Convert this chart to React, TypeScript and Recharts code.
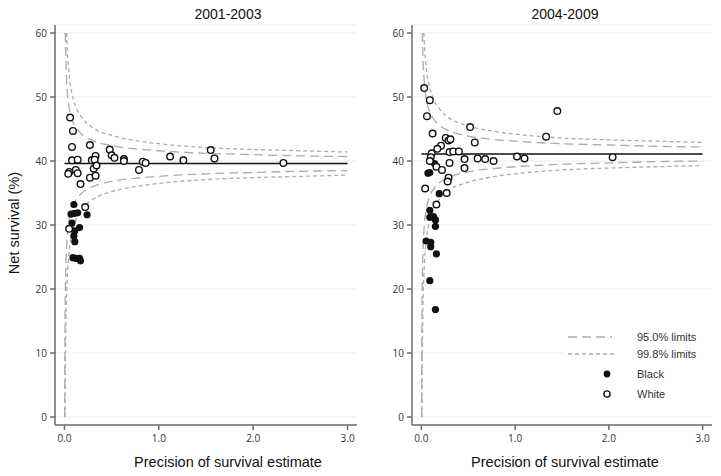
import React from "react"
import { ComposedChart, Line, Scatter, XAxis, YAxis, CartesianGrid } from "recharts"

type Pt = [number, number]
const toXY = (pts: Pt[]) => pts.map(([x, y]) => ({ x, y }))

const xTicks = [0, 1, 2, 3]
const yTicks = [0, 10, 20, 30, 40, 50, 60]
const panelTitles = ["2001-2003", "2004-2009"]
const legendLabels = ["95.0% limits", "99.8% limits", "Black", "White"]

// 2001-2003
const leftMean = 39.6
const leftWhite: Pt[] = [
  [0.06, 46.8], [0.09, 44.7], [0.08, 42.2], [0.08, 40.1], [0.05, 38.3], [0.04, 38.0],
  [0.12, 38.6], [0.14, 38.1], [0.14, 40.2], [0.17, 36.4], [0.27, 42.5], [0.29, 40.1],
  [0.33, 40.8], [0.32, 40.2], [0.31, 38.8], [0.34, 39.3], [0.27, 37.4], [0.33, 37.7],
  [0.48, 41.8], [0.5, 40.9], [0.53, 40.5], [0.63, 40.3], [0.63, 40.0], [0.79, 38.6],
  [0.83, 39.9], [0.86, 39.7], [1.12, 40.7], [1.26, 40.1], [1.55, 41.7], [1.59, 40.4],
  [2.32, 39.7], [0.22, 32.8], [0.05, 29.4],
]
const leftBlack: Pt[] = [
  [0.1, 33.2], [0.07, 31.7], [0.1, 31.8], [0.14, 31.9], [0.24, 31.6], [0.08, 30.3],
  [0.16, 29.6], [0.11, 29.1], [0.1, 28.3], [0.11, 27.4], [0.09, 24.9], [0.12, 24.8],
  [0.16, 24.8], [0.17, 24.4],
]
const leftU95: Pt[] = [
  [0.0092, 60], [0.01, 59.2], [0.015, 55.6], [0.02, 53.5], [0.03, 50.9], [0.05, 48.4],
  [0.08, 46.5], [0.12, 45.3], [0.2, 44.0], [0.3, 43.2], [0.5, 42.4], [0.75, 41.9],
  [1, 41.6], [1.5, 41.2], [2, 41.0], [2.5, 40.8], [3, 40.7],
]
const leftL95: Pt[] = [
  [0.0025, 0], [0.004, 8.6], [0.006, 14.3], [0.01, 20.0], [0.015, 23.6], [0.02, 25.7],
  [0.03, 28.3], [0.05, 30.8], [0.08, 32.7], [0.12, 33.9], [0.2, 35.2], [0.3, 36.0],
  [0.5, 36.8], [0.75, 37.3], [1, 37.6], [1.5, 38.0], [2, 38.2], [2.5, 38.4], [3, 38.5],
]
const leftU998: Pt[] = [
  [0.023, 60], [0.03, 57.4], [0.05, 53.4], [0.08, 50.5], [0.12, 48.5], [0.2, 46.5],
  [0.3, 45.2], [0.5, 44.0], [0.75, 43.2], [1, 42.7], [1.5, 42.1], [2, 41.8], [2.5, 41.6],
  [3, 41.4],
]
const leftL998: Pt[] = [
  [0.0061, 0], [0.008, 5.1], [0.01, 8.7], [0.015, 14.4], [0.02, 17.8], [0.03, 21.8],
  [0.05, 25.8], [0.08, 28.7], [0.12, 30.7], [0.2, 32.7], [0.3, 34.0], [0.5, 35.2],
  [0.75, 36.0], [1, 36.5], [1.5, 37.1], [2, 37.4], [2.5, 37.6], [3, 37.8],
]

// 2004-2009
const rightMean = 41.1
const rightWhite: Pt[] = [
  [0.03, 51.4], [0.09, 49.5], [0.06, 47.0], [0.12, 44.3], [0.26, 43.6], [0.29, 43.2],
  [0.31, 43.4], [0.21, 42.4], [0.17, 41.9], [0.11, 41.2], [0.3, 41.4], [0.34, 41.5],
  [0.4, 41.5], [0.1, 40.6], [0.09, 40.0], [0.16, 39.1], [0.22, 38.6], [0.3, 39.7],
  [0.46, 40.3], [0.46, 38.9], [0.6, 40.4], [0.68, 40.3], [0.77, 40.0], [0.52, 45.3],
  [0.57, 42.9], [1.02, 40.7], [1.1, 40.4], [1.33, 43.8], [1.45, 47.8], [2.04, 40.6],
  [0.04, 35.7], [0.29, 37.4], [0.28, 36.8], [0.27, 35.0], [0.16, 33.2],
]
const rightBlack: Pt[] = [
  [0.07, 38.1], [0.09, 38.2], [0.14, 39.6], [0.19, 34.9], [0.09, 32.3], [0.09, 31.2],
  [0.13, 31.3], [0.15, 30.8], [0.15, 29.8], [0.05, 27.5], [0.1, 27.3], [0.1, 26.6],
  [0.16, 25.5], [0.09, 21.3], [0.15, 16.8],
]
const rightU95: Pt[] = [
  [0.0108, 60], [0.015, 57.1], [0.02, 55.0], [0.03, 52.4], [0.05, 49.9], [0.08, 48.0],
  [0.12, 46.8], [0.2, 45.5], [0.3, 44.7], [0.5, 43.9], [0.75, 43.4], [1, 43.1],
  [1.5, 42.7], [2, 42.5], [2.5, 42.3], [3, 42.2],
]
const rightL95: Pt[] = [
  [0.0023, 0], [0.004, 10.1], [0.006, 15.8], [0.01, 21.5], [0.015, 25.1], [0.02, 27.2],
  [0.03, 29.8], [0.05, 32.3], [0.08, 34.2], [0.12, 35.4], [0.2, 36.7], [0.3, 37.5],
  [0.5, 38.3], [0.75, 38.8], [1, 39.1], [1.5, 39.5], [2, 39.7], [2.5, 39.9], [3, 40.0],
]
const rightU998: Pt[] = [
  [0.0267, 60], [0.03, 58.9], [0.05, 54.9], [0.08, 52.0], [0.12, 50.0], [0.2, 48.0],
  [0.3, 46.7], [0.5, 45.5], [0.75, 44.7], [1, 44.2], [1.5, 43.6], [2, 43.3], [2.5, 43.1],
  [3, 42.9],
]
const rightL998: Pt[] = [
  [0.0057, 0], [0.008, 6.6], [0.01, 10.2], [0.015, 15.9], [0.02, 19.3], [0.03, 23.3],
  [0.05, 27.3], [0.08, 30.2], [0.12, 32.2], [0.2, 34.2], [0.3, 35.5], [0.5, 36.7],
  [0.75, 37.5], [1, 38.0], [1.5, 38.6], [2, 38.9], [2.5, 39.1], [3, 39.3],
]

const LIMIT_GRAY = "#ababab"
const AXIS_GRAY = "#6b6b6b"
const DASH95 = "9 5"
const DASH998 = "4 3"

const BlackDot = (props: any) => <circle cx={props.cx} cy={props.cy} r={3.6} fill="#111" />
const WhiteDot = (props: any) => (
  <circle cx={props.cx} cy={props.cy} r={3.3} fill="#fff" stroke="#111" strokeWidth={1.4} />
)

interface PanelProps {
  left: number
  width: number
  margin: { top: number; right: number; bottom: number; left: number }
  mean: number
  white: Pt[]
  black: Pt[]
  u95: Pt[]
  l95: Pt[]
  u998: Pt[]
  l998: Pt[]
}

const Panel: React.FC<PanelProps> = ({ left, width, margin, mean, white, black, u95, l95, u998, l998 }) => {
  const center: Pt[] = [
    [0, mean],
    [3, mean],
  ]
  const limit = (pts: Pt[], dash: string, key: string) => (
    <Line
      key={key}
      data={toXY(pts)}
      dataKey="y"
      type="monotone"
      stroke={LIMIT_GRAY}
      strokeWidth={1.3}
      strokeDasharray={dash}
      dot={false}
      activeDot={false}
      isAnimationActive={false}
    />
  )
  return (
    <div style={{ position: "absolute", left, top: 0 }}>
      <ComposedChart width={width} height={476} margin={margin}>
        <CartesianGrid horizontal vertical={false} stroke="#ececec" />
        <XAxis
          type="number"
          dataKey="x"
          domain={[-0.1, 3.1]}
          ticks={xTicks}
          tickFormatter={(v: number) => v.toFixed(1)}
          height={30}
          tickSize={5}
          tickMargin={5}
          stroke={AXIS_GRAY}
          strokeWidth={1.5}
          tick={{ fontSize: 10, fill: "#333", fontFamily: "Open Sans" }}
        />
        <YAxis
          type="number"
          dataKey="y"
          domain={[-1.25, 61.25]}
          ticks={yTicks}
          width={40}
          tickSize={5}
          tickMargin={3}
          stroke={AXIS_GRAY}
          strokeWidth={1.5}
          tick={{ fontSize: 10, fill: "#333", fontFamily: "Open Sans" }}
        />
        {limit(u998, DASH998, "u998")}
        {limit(l998, DASH998, "l998")}
        {limit(u95, DASH95, "u95")}
        {limit(l95, DASH95, "l95")}
        <Line
          data={toXY(center)}
          dataKey="y"
          type="linear"
          stroke="#111"
          strokeWidth={1.5}
          dot={false}
          activeDot={false}
          isAnimationActive={false}
        />
        <Scatter data={toXY(black)} shape={BlackDot} isAnimationActive={false} />
        <Scatter data={toXY(white)} shape={WhiteDot} isAnimationActive={false} />
      </ComposedChart>
    </div>
  )
}

export default function App() {
  const labelFont = { fontFamily: "Liberation Sans, Arial, sans-serif", fill: "#111" }
  return (
    <div style={{ position: "absolute", left: 0, top: 0, width: 721, height: 476, background: "#fff" }}>
      <Panel
        left={0}
        width={360}
        margin={{ top: 25, right: 3, bottom: 21, left: 15 }}
        mean={leftMean}
        white={leftWhite}
        black={leftBlack}
        u95={leftU95}
        l95={leftL95}
        u998={leftU998}
        l998={leftL998}
      />
      <Panel
        left={360}
        width={361}
        margin={{ top: 25, right: 9, bottom: 21, left: 12 }}
        mean={rightMean}
        white={rightWhite}
        black={rightBlack}
        u95={rightU95}
        l95={rightL95}
        u998={rightU998}
        l998={rightL998}
      />
      <svg width={721} height={476} style={{ position: "absolute", left: 0, top: 0, pointerEvents: "none" }}>
        {/* titles and axis labels */}
        <text x={228} y={14} textAnchor="middle" dominantBaseline="central" fontSize={14} {...labelFont}>
          {panelTitles[0]}
        </text>
        <text x={565} y={14} textAnchor="middle" dominantBaseline="central" fontSize={14} {...labelFont}>
          {panelTitles[1]}
        </text>
        <text x={228} y={462} textAnchor="middle" dominantBaseline="central" fontSize={14.5} {...labelFont}>
          Precision of survival estimate
        </text>
        <text x={565} y={462} textAnchor="middle" dominantBaseline="central" fontSize={14.5} {...labelFont}>
          Precision of survival estimate
        </text>
        <text
          x={14}
          y={223}
          textAnchor="middle"
          dominantBaseline="central"
          fontSize={14.5}
          transform="rotate(-90 14 223)"
          {...labelFont}
        >
          Net survival (%)
        </text>

        {/* legend */}
        <rect x={563} y={326} width={149} height={79} fill="#fff" />
        <line x1={568} x2={612} y1={337} y2={337} stroke={LIMIT_GRAY} strokeWidth={1.3} strokeDasharray={DASH95} />
        <line x1={568} x2={615} y1={354} y2={354} stroke={LIMIT_GRAY} strokeWidth={1.3} strokeDasharray={DASH998} />
        <circle cx={607} cy={374} r={3.4} fill="#111" />
        <circle cx={607} cy={394} r={3.1} fill="#fff" stroke="#111" strokeWidth={1.4} />
        {legendLabels.map((t, i) => (
          <text
            key={t}
            x={637}
            y={[337, 354, 374, 394][i]}
            dominantBaseline="central"
            fontSize={11}
            fontFamily="Liberation Sans, Arial, sans-serif"
            fill="#333"
          >
            {t}
          </text>
        ))}
      </svg>
    </div>
  )
}
